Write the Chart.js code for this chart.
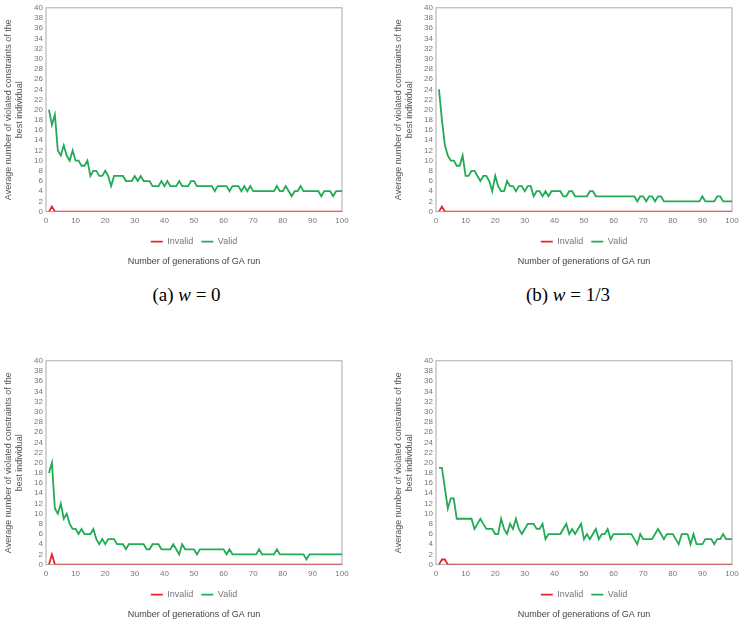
<!DOCTYPE html>
<html>
<head>
<meta charset="utf-8">
<script src="https://cdn.jsdelivr.net/npm/chart.js@4.4.0/dist/chart.umd.min.js"></script>
<style>
  body { margin: 0; background: #fff; width: 746px; height: 630px; position: relative; overflow: hidden; }
  .panel { position: absolute; }
  .caption { position: absolute; text-align: center; font-family: "Liberation Serif", "DejaVu Serif", serif; font-size: 19px; color: #000; }
</style>
</head>
<body>
<div class="panel" style="left:0;top:0"><canvas id="chartA" width="356" height="275"></canvas></div>
<div class="panel" style="left:390px;top:0"><canvas id="chartB" width="356" height="275"></canvas></div>
<div class="panel" style="left:0;top:353px"><canvas id="chartC" width="356" height="275"></canvas></div>
<div class="panel" style="left:390px;top:353px"><canvas id="chartD" width="356" height="275"></canvas></div>
<div class="caption" style="left:0;top:284px;width:373px">(a) <i>w</i> = 0</div>
<div class="caption" style="left:390px;top:284px;width:356px">(b) <i>w</i> = 1/3</div>
<script>
// generation index on the x axis
const generations = Array.from({length: 100}, (_, i) => i + 1);

const seriesNames = ['Invalid', 'Valid'];
const xTitle = 'Number of generations of GA run';
const yTitle = ['Average number of violated constraints of the', 'best individual'];

// (a) w = 0
const invalidA = [
  0,1,0,0,0,0,0,0,0,0, 0,0,0,0,0,0,0,0,0,0,
  0,0,0,0,0,0,0,0,0,0, 0,0,0,0,0,0,0,0,0,0,
  0,0,0,0,0,0,0,0,0,0, 0,0,0,0,0,0,0,0,0,0,
  0,0,0,0,0,0,0,0,0,0, 0,0,0,0,0,0,0,0,0,0,
  0,0,0,0,0,0,0,0,0,0, 0,0,0,0,0,0,0,0,0,0
];
const validA = [
  20,17,19,12,11,13,11,10,12,10, 10,9,9,10,7,8,8,7,7,8,
  7,5,7,7,7,7,6,6,6,7, 6,7,6,6,6,5,5,5,6,5,
  6,5,5,5,6,5,5,5,6,6, 5,5,5,5,5,5,4,5,5,5,
  5,4,5,5,5,4,5,4,5,4, 4,4,4,4,4,4,4,5,4,4,
  5,4,3,4,4,5,4,4,4,4, 4,4,3,4,4,4,3,4,4,4
];

// (b) w = 1/3
const invalidB = [
  0,1,0,0,0,0,0,0,0,0, 0,0,0,0,0,0,0,0,0,0,
  0,0,0,0,0,0,0,0,0,0, 0,0,0,0,0,0,0,0,0,0,
  0,0,0,0,0,0,0,0,0,0, 0,0,0,0,0,0,0,0,0,0,
  0,0,0,0,0,0,0,0,0,0, 0,0,0,0,0,0,0,0,0,0,
  0,0,0,0,0,0,0,0,0,0, 0,0,0,0,0,0,0,0,0,0
];
const validB = [
  24,18,13,11,10,10,9,9,11,7, 7,8,8,7,6,7,7,6,4,7,
  5,4,4,6,5,5,4,5,5,4, 5,5,3,4,4,3,4,3,4,4,
  4,4,3,3,4,4,3,3,3,3, 3,4,4,3,3,3,3,3,3,3,
  3,3,3,3,3,3,3,2,3,3, 2,3,3,2,3,3,2,2,2,2,
  2,2,2,2,2,2,2,2,2,3, 2,2,2,2,3,3,2,2,2,2
];

// (c)
const invalidC = [
  0,2,0,0,0,0,0,0,0,0, 0,0,0,0,0,0,0,0,0,0,
  0,0,0,0,0,0,0,0,0,0, 0,0,0,0,0,0,0,0,0,0,
  0,0,0,0,0,0,0,0,0,0, 0,0,0,0,0,0,0,0,0,0,
  0,0,0,0,0,0,0,0,0,0, 0,0,0,0,0,0,0,0,0,0,
  0,0,0,0,0,0,0,0,0,0, 0,0,0,0,0,0,0,0,0,0
];
const validC = [
  18,20,11,10,12,9,10,8,7,7, 6,7,6,6,6,7,5,4,5,4,
  5,5,5,4,4,4,3,4,4,4, 4,4,4,3,3,4,4,4,3,3,
  3,3,4,3,2,4,3,3,3,3, 2,3,3,3,3,3,3,3,3,3,
  2,3,2,2,2,2,2,2,2,2, 2,3,2,2,2,2,2,3,2,2,
  2,2,2,2,2,2,2,1,2,2, 2,2,2,2,2,2,2,2,2,2
];

// (d)
const invalidD = [
  0,1,1,0,0,0,0,0,0,0, 0,0,0,0,0,0,0,0,0,0,
  0,0,0,0,0,0,0,0,0,0, 0,0,0,0,0,0,0,0,0,0,
  0,0,0,0,0,0,0,0,0,0, 0,0,0,0,0,0,0,0,0,0,
  0,0,0,0,0,0,0,0,0,0, 0,0,0,0,0,0,0,0,0,0,
  0,0,0,0,0,0,0,0,0,0, 0,0,0,0,0,0,0,0,0,0
];
const validD = [
  19,19,15,11,13,13,9,9,9,9, 9,9,7,8,9,8,7,7,7,6,
  6,9,7,6,8,7,9,7,6,7, 8,8,8,7,7,8,5,6,6,6,
  6,6,7,8,6,7,6,7,8,5, 6,5,6,7,5,6,6,7,5,6,
  6,6,6,6,6,6,5,4,6,5, 5,5,5,6,7,6,5,6,6,6,
  5,4,6,6,6,4,6,4,4,4, 5,5,5,4,5,5,6,5,5,5
];

const frame = {
  id: 'frame',
  beforeDatasetsDraw(chart) {
    const {ctx, chartArea: a} = chart;
    ctx.save();
    ctx.strokeStyle = '#aaa';
    ctx.lineWidth = 1;
    ctx.strokeRect(a.left, a.top, a.right - a.left, a.bottom - a.top);
    ctx.restore();
  }
};

function makeChart(id, invalid, valid) {
  new Chart(document.getElementById(id), {
    type: 'line',
    data: {
      datasets: [{
        label: seriesNames[0],
        data: generations.map((g, i) => ({x: g, y: invalid[i]})),
        borderColor: '#e8262b',
        backgroundColor: '#e8262b',
        borderWidth: 1.8,
        pointRadius: 0,
        pointStyle: 'line'
      }, {
        label: seriesNames[1],
        data: generations.map((g, i) => ({x: g, y: valid[i]})),
        borderColor: '#22aa55',
        backgroundColor: '#22aa55',
        borderWidth: 1.8,
        pointRadius: 0,
        pointStyle: 'line'
      }]
    },
    options: {
      responsive: false,
      animation: false,
      devicePixelRatio: 1,
      layout: {padding: {left: 0, right: 14, top: 1, bottom: 8}},
      scales: {
        x: {
          type: 'linear', min: 0, max: 100,
          grid: {display: false, drawTicks: false}, border: {display: false},
          ticks: {stepSize: 10, padding: 4, font: {size: 8}, color: '#777', maxRotation: 0}
        },
        y: {
          min: 0, max: 40,
          grid: {display: false, drawTicks: false}, border: {display: false},
          ticks: {stepSize: 2, padding: 3, autoSkip: false, font: {size: 8}, color: '#777'},
          title: {display: true, text: yTitle, font: {size: 9}, color: '#555', padding: {top: 3, bottom: 0}},
          afterFit(s) { s.width = 46; }
        }
      },
      plugins: {
        legend: {
          position: 'bottom', fullSize: false,
          labels: {usePointStyle: true, pointStyle: 'line', pointStyleWidth: 12, boxHeight: 6,
                   font: {size: 9}, color: '#777', padding: 8}
        },
        title: {
          display: true, position: 'bottom', fullSize: false, text: xTitle,
          font: {size: 9, weight: 'normal'}, color: '#444', padding: {top: 0, bottom: 0}
        },
        tooltip: {enabled: false}
      }
    },
    plugins: [frame]
  });
}

makeChart('chartA', invalidA, validA);
makeChart('chartB', invalidB, validB);
makeChart('chartC', invalidC, validC);
makeChart('chartD', invalidD, validD);
</script>
</body>
</html>
